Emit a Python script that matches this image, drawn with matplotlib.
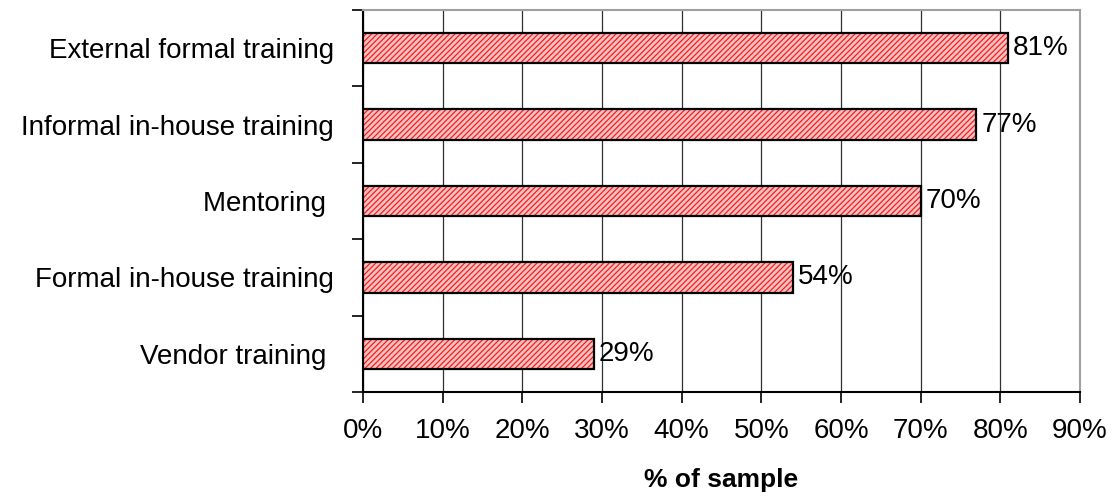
import matplotlib.pyplot as plt
from matplotlib.ticker import FixedLocator, NullFormatter

plt.rcParams['font.family'] = ['Liberation Sans', 'DejaVu Sans']
plt.rcParams['hatch.linewidth'] = 0.9

# Training types, bottom to top
labels = ["Vendor training ", "Formal in-house training", "Mentoring ",
          "Informal in-house training", "External formal training"]
values = [29, 54, 70, 77, 81]
xticks = [0, 10, 20, 30, 40, 50, 60, 70, 80, 90]

fig = plt.figure(figsize=(11.13, 4.96), dpi=100)
ax = fig.add_axes([363 / 1113, 1 - 392 / 496, (1080 - 363) / 1113, (392 - 10) / 496])

pos = list(range(len(values)))
# hatched fill first, then the black outline on top
ax.barh(pos, values, height=0.4, color='#ffc0c0', edgecolor='#ee2020',
        hatch='//////', linewidth=0, zorder=3)
ax.barh(pos, values, height=0.4, fill=False, edgecolor='black',
        linewidth=1.6, zorder=4)

for y, v in zip(pos, values):
    ax.text(v + 0.6, y, f"{v}%", va='center', ha='left', fontsize=20, zorder=5)

ax.set_xlim(0, 90)
ax.set_ylim(-0.5, len(values) - 0.5)
ax.set_xticks(xticks)
ax.set_xticklabels([f"{t}%" for t in xticks], fontsize=20)
ax.xaxis.grid(True, color='#303030', linewidth=0.9, zorder=0)

# category ticks sit between the bars, names centred on each bar
ax.yaxis.set_major_locator(FixedLocator([p - 0.5 for p in pos] + [len(values) - 0.5]))
ax.yaxis.set_major_formatter(NullFormatter())
ax.yaxis.set_minor_locator(FixedLocator(pos))
ax.set_yticklabels(labels, minor=True, fontsize=20)
ax.tick_params(axis='y', which='major', length=8, width=1.2, direction='out')
ax.tick_params(axis='y', which='minor', length=0, pad=21)
ax.tick_params(axis='x', length=8, width=1.2, pad=11)

for side in ['left', 'bottom']:
    ax.spines[side].set_linewidth(1.5)
for side in ['top', 'right']:
    ax.spines[side].set_color('#a0a0a0')
    ax.spines[side].set_linewidth(1.5)

ax.set_xlabel("% of sample", fontsize=19, fontweight='bold', labelpad=17)

fig.savefig("out.png", dpi=100)
